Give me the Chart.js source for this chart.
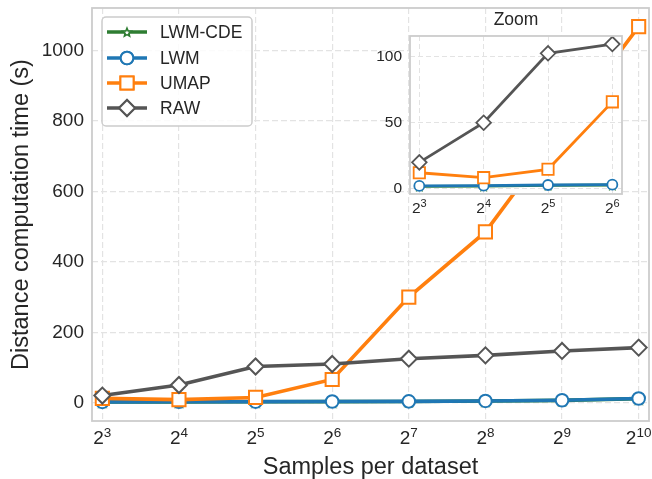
<!DOCTYPE html>
<html><head><meta charset="utf-8">
<script src="https://cdn.jsdelivr.net/npm/chart.js@4.4.0/dist/chart.umd.min.js"></script>
<style>
html,body{margin:0;padding:0;background:#fff;}
#wrap{position:relative;width:652px;height:479px;overflow:hidden;}
#main{position:absolute;left:0;top:0;}
#inset{position:absolute;left:360px;top:0;}
</style></head><body>
<div id="wrap"><canvas id="main" width="652" height="479"></canvas><canvas id="inset" width="292" height="230"></canvas></div>
<script>
// ---- data ----
const exponents = [3, 4, 5, 6, 7, 8, 9, 10];            // samples per dataset = 2^e
const lwmCde = [2.0, 2.2, 2.7, 3.0, 3.4, 4.6, 6.6, 11.5];
const lwm    = [2.3, 2.5, 3.0, 3.3, 3.8, 5.0, 7.0, 12.0];
const umap   = [12.3, 8.6, 14.9, 66, 300, 485, 778, 1068];
const raw    = [20.2, 50.2, 102.8, 109.8, 125, 134.5, 147, 156.5];
const mainYTicks = [0, 200, 400, 600, 800, 1000];
const insetExponents = [3, 4, 5, 6];
const insetYTicks = [0, 50, 100];
const seriesLabels = ['LWM-CDE', 'LWM', 'UMAP', 'RAW'];
const xTitle = 'Samples per dataset';
const yTitle = 'Distance computation time (s)';
const insetTitle = 'Zoom';

const FONT = "'Liberation Sans', Arial, Helvetica, sans-serif";
const TXT = '#262626';
const GRID = '#e3e3e3';
const FRAME = '#cccccc';
Chart.defaults.font.family = FONT;
Chart.defaults.color = TXT;
Chart.defaults.animation = false;

function makeStar(size, color, lw) {
  const c = document.createElement('canvas');
  c.width = size; c.height = size;
  const g = c.getContext('2d');
  const cx = size / 2, cy = size / 2 + 0.6, R = size / 2 - lw, r = R * 0.45;
  g.beginPath();
  for (let i = 0; i < 10; i++) {
    const a = -Math.PI / 2 + i * Math.PI / 5;
    const rr = i % 2 ? r : R;
    const px = cx + rr * Math.cos(a), py = cy + rr * Math.sin(a);
    i ? g.lineTo(px, py) : g.moveTo(px, py);
  }
  g.closePath();
  g.fillStyle = '#fff'; g.fill();
  g.lineWidth = lw; g.strokeStyle = color; g.lineJoin = 'miter'; g.stroke();
  return c;
}
const colors = ['#2e7d32', '#1f77b4', '#ff7f0e', '#555555'];
const values = [lwmCde, lwm, umap, raw];
const starMain = makeStar(14, colors[0], 1.8);
const starInset = makeStar(11, colors[0], 1.5);
const styles = [starMain, 'circle', 'rect', 'rectRot'];
const stylesInset = [starInset, 'circle', 'rect', 'rectRot'];
const radiiMain = [7, 6.3, 9.3, 8];
const radiiInset = [5.5, 5, 8, 7.3];
const orders = [3, 2, 1, 0];

function buildDatasets(xs, nPts, st, radii, lw, bw) {
  return seriesLabels.map((lab, k) => ({
    label: lab,
    data: xs.slice(0, nPts).map((e, i) => ({ x: e, y: values[k][i] })),
    borderColor: colors[k],
    backgroundColor: '#fff',
    pointBackgroundColor: '#fff',
    pointBorderColor: colors[k],
    pointBorderWidth: bw,
    pointStyle: st[k],
    pointRadius: radii[k],
    borderWidth: lw,
    order: orders[k],
    tension: 0
  }));
}

function drawFrame(chart, w) {
  const a = chart.chartArea, ctx = chart.ctx;
  ctx.save();
  ctx.strokeStyle = FRAME; ctx.lineWidth = w;
  ctx.strokeRect(a.left, a.top, a.right - a.left, a.bottom - a.top);
  ctx.restore();
}

function drawPowLabels(chart, exps, baseSize, supSize, baseline, raise) {
  const ctx = chart.ctx, xs = chart.scales.x;
  ctx.save();
  ctx.fillStyle = TXT;
  ctx.textBaseline = 'alphabetic';
  ctx.textAlign = 'left';
  exps.forEach(e => {
    const px = xs.getPixelForValue(e);
    ctx.font = baseSize + 'px ' + FONT;
    const w1 = ctx.measureText('2').width;
    ctx.font = supSize + 'px ' + FONT;
    const w2 = ctx.measureText(String(e)).width;
    const x0 = px - (w1 + w2) / 2;
    ctx.font = baseSize + 'px ' + FONT;
    ctx.fillText('2', x0, baseline);
    ctx.font = supSize + 'px ' + FONT;
    ctx.fillText(String(e), x0 + w1, baseline - raise);
  });
  ctx.restore();
}

function noPad(s) { s.paddingTop = 0; s.paddingBottom = 0; s.paddingLeft = 0; s.paddingRight = 0; }

const mainPlugin = {
  id: 'mainDecor',
  afterDatasetsDraw(chart) {
    drawFrame(chart, 1.8);
    const ctx = chart.ctx, a = chart.chartArea;
    drawPowLabels(chart, exponents, 19, 13.5, 444, 7.5);
    ctx.save();
    ctx.fillStyle = TXT;
    ctx.font = '23.5px ' + FONT;
    ctx.textAlign = 'center'; ctx.textBaseline = 'alphabetic';
    ctx.fillText(xTitle, (a.left + a.right) / 2, 474);
    ctx.translate(28, (a.top + a.bottom) / 2);
    ctx.rotate(-Math.PI / 2);
    ctx.fillText(yTitle, 0, 0);
    ctx.restore();
    // legend
    ctx.save();
    const bx = 102, by = 17, bw = 150, bh = 109, r = 4;
    ctx.beginPath();
    ctx.moveTo(bx + r, by); ctx.lineTo(bx + bw - r, by); ctx.arcTo(bx + bw, by, bx + bw, by + r, r);
    ctx.lineTo(bx + bw, by + bh - r); ctx.arcTo(bx + bw, by + bh, bx + bw - r, by + bh, r);
    ctx.lineTo(bx + r, by + bh); ctx.arcTo(bx, by + bh, bx, by + bh - r, r);
    ctx.lineTo(bx, by + r); ctx.arcTo(bx, by, bx + r, by, r);
    ctx.closePath();
    ctx.fillStyle = 'rgba(255,255,255,0.85)'; ctx.fill();
    ctx.strokeStyle = FRAME; ctx.lineWidth = 1.5; ctx.stroke();
    const rows = [32, 58, 83, 108];
    chart.data.datasets.forEach((ds, k) => {
      const y = rows[k];
      ctx.strokeStyle = ds.borderColor; ctx.lineWidth = 3.5;
      ctx.beginPath(); ctx.moveTo(107, y); ctx.lineTo(147, y); ctx.stroke();
      const st = ds.pointStyle;
      if (typeof st === 'string') {
        ctx.fillStyle = '#fff'; ctx.strokeStyle = ds.borderColor; ctx.lineWidth = 2;
        Chart.helpers.drawPoint(ctx, { pointStyle: st, radius: ds.pointRadius, borderWidth: 2, rotation: 0 }, 127, y);
        ctx.fill(); ctx.stroke();
      } else {
        const s = 12;
        ctx.drawImage(makeStar(s, ds.borderColor, 1.6), 127 - s / 2, y - s / 2);
      }
      ctx.fillStyle = TXT; ctx.font = '17.5px ' + FONT;
      ctx.textAlign = 'left'; ctx.textBaseline = 'middle';
      ctx.fillText(ds.label, 160, y + 1);
    });
    ctx.restore();
  }
};

new Chart(document.getElementById('main').getContext('2d'), {
  type: 'line',
  data: { datasets: buildDatasets(exponents, exponents.length, styles, radiiMain, 3.6, 2) },
  options: {
    responsive: false, animation: false, events: [],
    layout: { autoPadding: false, padding: { top: 8, right: 3, left: 0, bottom: 0 } },
    plugins: { legend: { display: false }, tooltip: { enabled: false } },
    scales: {
      x: {
        type: 'linear', min: 3 - 0.135, max: 10 + 0.135,
        afterBuildTicks: s => { s.ticks = exponents.map(v => ({ value: v })); },
        afterFit: s => { s.height = 58; noPad(s); },
        ticks: { display: false },
        grid: { color: GRID, lineWidth: 1.2, drawTicks: false, borderDash: [6, 3] },
        border: { display: false, dash: [6, 3] }
      },
      y: {
        type: 'linear', min: -52, max: 1121,
        afterBuildTicks: s => { s.ticks = mainYTicks.map(v => ({ value: v })); },
        afterFit: s => { s.width = 92; noPad(s); },
        ticks: { padding: 8, font: { size: 19 }, color: TXT, callback: v => String(v) },
        grid: { color: GRID, lineWidth: 1.2, drawTicks: false, borderDash: [6, 3] },
        border: { display: false, dash: [6, 3] }
      }
    }
  },
  plugins: [mainPlugin]
});

const insetPlugin = {
  id: 'insetDecor',
  beforeDraw(chart) {
    const a = chart.chartArea, ctx = chart.ctx;
    ctx.save(); ctx.fillStyle = '#fff';
    ctx.fillRect(a.left, a.top, a.right - a.left, a.bottom - a.top);
    ctx.restore();
  },
  afterDatasetsDraw(chart) {
    drawFrame(chart, 1.8);
    drawPowLabels(chart, insetExponents, 15.5, 11, 213, 6);
    const ctx = chart.ctx, a = chart.chartArea;
    ctx.save();
    ctx.fillStyle = TXT; ctx.font = '17.5px ' + FONT;
    ctx.textAlign = 'center'; ctx.textBaseline = 'alphabetic';
    ctx.fillText(insetTitle, (a.left + a.right) / 2, 25);
    ctx.restore();
  }
};

new Chart(document.getElementById('inset').getContext('2d'), {
  type: 'line',
  data: { datasets: buildDatasets(insetExponents, insetExponents.length, stylesInset, radiiInset, 2.8, 1.8) },
  options: {
    responsive: false, animation: false, events: [],
    layout: { autoPadding: false, padding: { top: 36, right: 30, left: 0, bottom: 0 } },
    plugins: { legend: { display: false }, tooltip: { enabled: false } },
    scales: {
      x: {
        type: 'linear', min: 3 - 0.145, max: 6 + 0.15,
        afterBuildTicks: s => { s.ticks = insetExponents.map(v => ({ value: v })); },
        afterFit: s => { s.height = 36; noPad(s); },
        ticks: { display: false },
        grid: { color: GRID, lineWidth: 1, drawTicks: false, borderDash: [5, 3] },
        border: { display: false, dash: [5, 3] }
      },
      y: {
        type: 'linear', min: -3.8, max: 115.9,
        afterBuildTicks: s => { s.ticks = insetYTicks.map(v => ({ value: v })); },
        afterFit: s => { s.width = 50; noPad(s); },
        ticks: { padding: 8, font: { size: 15.5 }, color: TXT, callback: v => String(v) },
        grid: { color: GRID, lineWidth: 1, drawTicks: false, borderDash: [5, 3] },
        border: { display: false, dash: [5, 3] }
      }
    }
  },
  plugins: [insetPlugin]
});
</script>
</body></html>
